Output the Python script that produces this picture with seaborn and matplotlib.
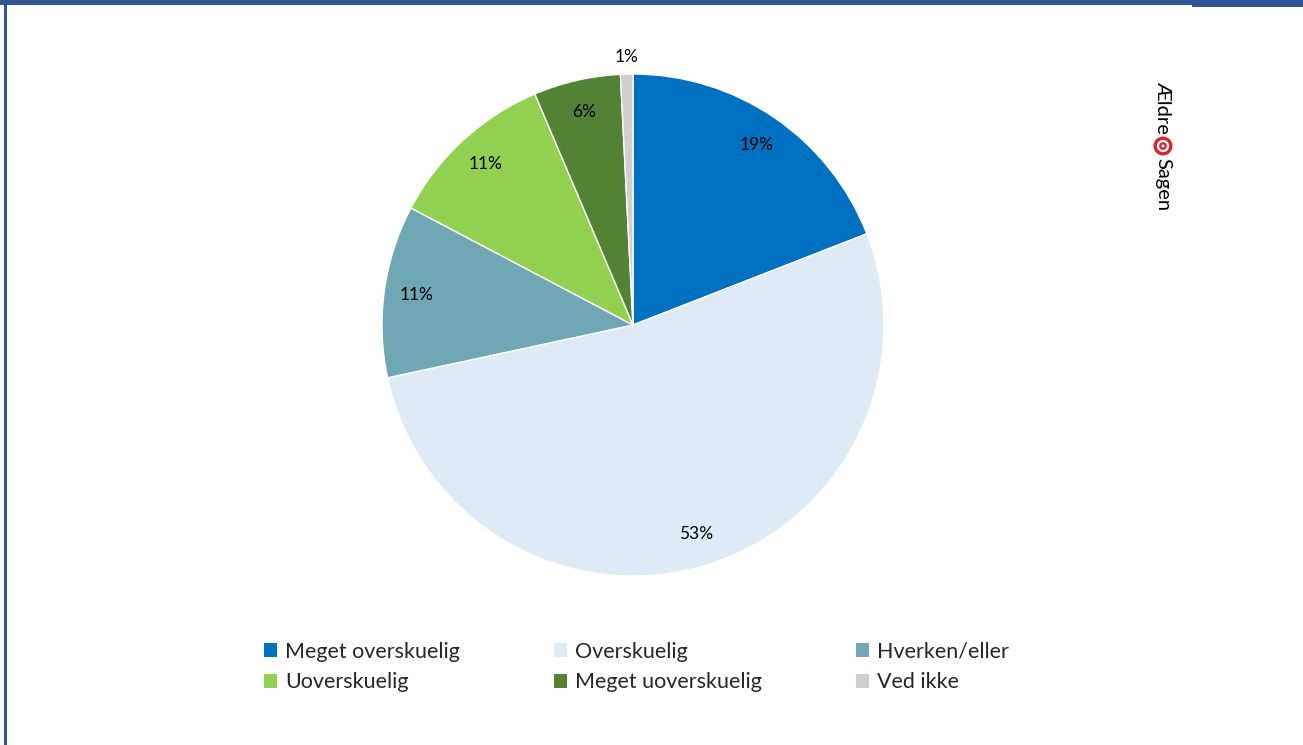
import numpy as np
import matplotlib.pyplot as plt
import seaborn as sns
from matplotlib.patches import Rectangle, Ellipse, Patch
from matplotlib.lines import Line2D

# answers and shares (percent)
categories = ['Meget overskuelig', 'Overskuelig', 'Hverken/eller',
              'Uoverskuelig', 'Meget uoverskuelig', 'Ved ikke']
shares = [19.1, 52.6, 11.1, 10.9, 5.6, 0.8]
colors = ['#0070C0', '#DEEAF6', '#6FA8B4', '#92D050', '#548235', '#D0CECE']

sns.set_theme(style='white')
plt.rcParams['font.family'] = ['Lato', 'DejaVu Sans']

fig = plt.figure(figsize=(13.03, 7.45), dpi=100)
W, H = 1303, 745

# pie axes: centre (633, 325), radius 251 px
r = 251
ax = fig.add_axes([(633 - r) / W, (H - 325 - r) / H, 2 * r / W, 2 * r / H])
wedges, _ = ax.pie(shares, colors=colors, startangle=90, counterclock=False,
                   wedgeprops=dict(edgecolor='white', linewidth=1))
ax.set_xlim(-1, 1)
ax.set_ylim(-1, 1)
ax.axis('off')

# percent labels
total = sum(shares)
for w, v in zip(wedges, shares):
    mid = np.deg2rad((w.theta1 + w.theta2) / 2)
    dist = 1.07 if v < 2 else 0.87
    ax.text(dist * np.cos(mid), dist * np.sin(mid), f'{v / total * 100:.0f}%',
            ha='center', va='center', fontsize=12.5, color='black', clip_on=False)

# legend, filled column-wise so reorder to read row-wise
order = [0, 3, 1, 4, 2, 5]
handles = [Patch(facecolor=colors[i], edgecolor='none') for i in order]
labels = [categories[i] for i in order]
fig.legend(handles, labels, ncol=3, loc='center left',
           bbox_to_anchor=(245 / W, 1 - 667 / H), frameon=False,
           fontsize=15.5, handlelength=0.6, handleheight=0.6,
           handletextpad=0.35, columnspacing=4.4, labelspacing=0.5)

# frame: blue band on top and left border
blue = '#2F5597'
fig.patches.append(Rectangle((0, 1 - 5 / H), 1, 5 / H, transform=fig.transFigure,
                             facecolor=blue, edgecolor='none'))
fig.patches.append(Rectangle((1192 / W, 1 - 7 / H), 111 / W, 7 / H,
                             transform=fig.transFigure, facecolor=blue, edgecolor='none'))
fig.lines.append(Line2D([5 / W, 5 / W], [0, 1], transform=fig.transFigure,
                        color=blue, linewidth=2.2))

# logo
fig.text(1163 / W, 1 - 107 / H, 'Ældre', rotation=-90, ha='center', va='center',
         fontsize=14.5, color='black')
fig.patches.append(Ellipse((1163 / W, 1 - 146 / H), 19 / W, 19 / H,
                           transform=fig.transFigure, facecolor='#D9262E', edgecolor='none'))
fig.patches.append(Ellipse((1163 / W, 1 - 146 / H), 10 / W, 10 / H,
                           transform=fig.transFigure, facecolor='none',
                           edgecolor='white', linewidth=1.6))
fig.patches.append(Ellipse((1163 / W, 1 - 146 / H), 3 / W, 3 / H,
                           transform=fig.transFigure, facecolor='white', edgecolor='none'))
fig.text(1163 / W, 1 - 185 / H, 'Sagen', rotation=-90, ha='center', va='center',
         fontsize=14.5, color='black')

fig.savefig('out.png', dpi=100, facecolor='white')
